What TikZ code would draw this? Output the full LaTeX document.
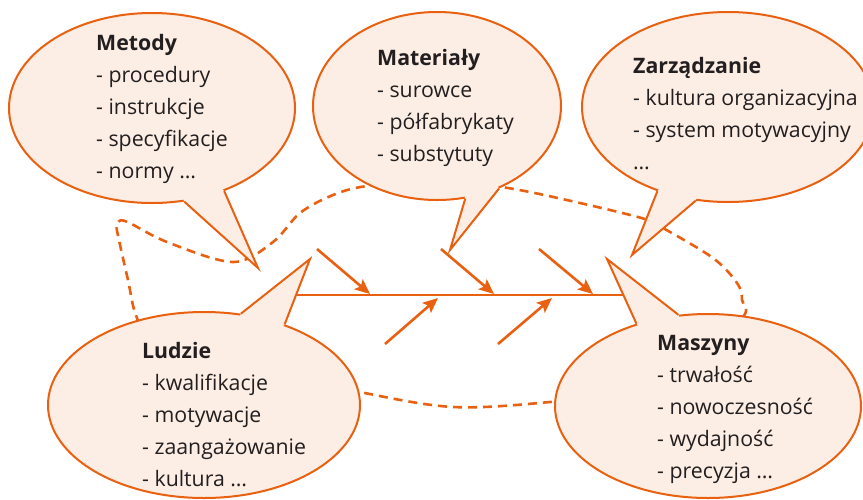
\documentclass[tikz,border=0pt]{standalone}
\usepackage{fontspec}
\setmainfont{Open Sans}
\usetikzlibrary{arrows.meta,shapes.geometric}
\definecolor{fishorange}{RGB}{232,96,16}
\definecolor{bubblefill}{RGB}{252,238,228}
\definecolor{inkgray}{RGB}{35,31,32}
% stacked lines of a bubble: bold title, then items, baseline of the first line is the box baseline
\newcommand\bubblelines[2]{\vtop{\baselineskip=32pt\hbox{\bfseries #1}#2}}
\newcommand\bl[1]{\hbox{#1}}

\begin{document}
\begin{tikzpicture}[x=1pt,y=-1pt,
  bubble/.style={ellipse, draw=fishorange, fill=bubblefill, line width=2pt, inner sep=0pt},
  tipfill/.style={fill=bubblefill},
  tipedge/.style={draw=fishorange, line width=2pt, line join=miter},
  bubbletext/.style={anchor=base west, inner sep=0pt, text=inkgray, font=\fontsize{21.3}{32}\selectfont},
  spine/.style={draw=fishorange, line width=2.4pt},
  cause/.style={draw=fishorange, line width=2.6pt, -{Stealth[length=15pt,width=13pt,inset=3pt]}},
  loop/.style={draw=fishorange, line width=2.6pt, dash pattern=on 9pt off 6pt}
]
\clip (0,0) rectangle (863,499);

% dashed loop running behind all bubbles
\draw[loop] plot[smooth cycle, tension=0.55] coordinates {
  (137,318) (128,280) (119,240) (117,226) (125,221) (167,242) (233,262)
  (273,242) (300,213) (333,195) (367,186) (437,180) (508,188) (580,203)
  (645,219) (663,228) (713,258) (737,283) (742,300) (738,322) (640,390)
  (550,402) (453,407) (360,392) (280,372) (160,352)};

% spine and cause arrows
\coordinate (spineL) at (290,295);
\coordinate (spineR) at (628,295);
\draw[spine] (spineL) -- (spineR);

\coordinate (a1s) at (317,249); \coordinate (a1e) at (370,294);
\coordinate (a2s) at (441,249); \coordinate (a2e) at (494,294);
\coordinate (a3s) at (539,249); \coordinate (a3e) at (593,294);
\coordinate (b1s) at (385,344); \coordinate (b1e) at (438,298);
\coordinate (b2s) at (498,344); \coordinate (b2e) at (552,298);
\draw[cause] (a1s) -- (a1e);
\draw[cause] (a2s) -- (a2e);
\draw[cause] (a3s) -- (a3e);
\draw[cause] (b1s) -- (b1e);
\draw[cause] (b2s) -- (b2e);

% Metody
\node[bubble, minimum width=286pt, minimum height=190pt] (metody) at (152,108) {};
\coordinate (metodyTip) at (258,268);
\fill[tipfill] (metody.center) -- (metody.-71.4) -- (metodyTip) -- (metody.-49.5) -- cycle;
\draw[tipedge] (metody.-71.4) -- (metodyTip) -- (metody.-49.5);

% Materialy
\node[bubble, minimum width=248pt, minimum height=188pt] (materialy) at (437,106) {};
\coordinate (materialyTip) at (450,250);
\fill[tipfill] (materialy.center) -- (materialy.-73.2) -- (materialyTip) -- (materialy.-53.7) -- cycle;
\draw[tipedge] (materialy.-73.2) -- (materialyTip) -- (materialy.-53.7);

% Zarzadzanie
\node[bubble, minimum width=292pt, minimum height=190pt] (zarzadzanie) at (728,107) {};
\coordinate (zarzadzanieTip) at (632,255);
\fill[tipfill] (zarzadzanie.center) -- (zarzadzanie.-130.5) -- (zarzadzanieTip) -- (zarzadzanie.-109.5) -- cycle;
\draw[tipedge] (zarzadzanie.-130.5) -- (zarzadzanieTip) -- (zarzadzanie.-109.5);

% Ludzie
\node[bubble, minimum width=312pt, minimum height=186pt] (ludzie) at (204,405) {};
\coordinate (ludzieTip) at (310,259);
\fill[tipfill] (ludzie.center) -- (ludzie.68.2) -- (ludzieTip) -- (ludzie.45.7) -- cycle;
\draw[tipedge] (ludzie.68.2) -- (ludzieTip) -- (ludzie.45.7);

% Maszyny
\node[bubble, minimum width=306pt, minimum height=184pt] (maszyny) at (708,406) {};
\coordinate (maszynyTip) at (607,259);
\fill[tipfill] (maszyny.center) -- (maszyny.131.2) -- (maszynyTip) -- (maszyny.108.6) -- cycle;
\draw[tipedge] (maszyny.131.2) -- (maszynyTip) -- (maszyny.108.6);

% texts
\node[bubbletext] (metodyText) at (96,50) {\bubblelines{Metody}{\bl{- procedury}\bl{- instrukcje}\bl{- specyfikacje}\bl{- normy …}}};
\node[bubbletext] (materialyText) at (377,65) {\bubblelines{Materiały}{\bl{- surowce}\bl{- półfabrykaty}\bl{- substytuty}}};
\node[bubbletext] (zarzadzanieText) at (633,73) {\bubblelines{Zarządzanie}{\bl{- kultura organizacyjna}\bl{- system motywacyjny}\bl{…}}};
\node[bubbletext] (ludzieText) at (142,358) {\bubblelines{Ludzie}{\bl{- kwalifikacje}\bl{- motywacje}\bl{- zaangażowanie}\bl{- kultura …}}};
\node[bubbletext] (maszynyText) at (657,350) {\bubblelines{Maszyny}{\bl{- trwałość}\bl{- nowoczesność}\bl{- wydajność}\bl{- precyzja …}}};
\end{tikzpicture}
\end{document}
